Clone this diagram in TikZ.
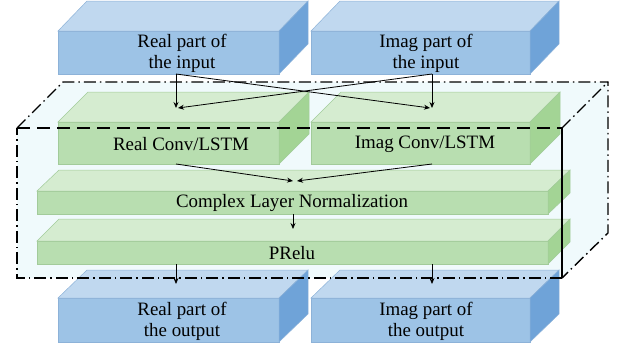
\documentclass[tikz,border=0pt]{standalone}
\usepackage{fontspec}
\setmainfont{Liberation Serif}
\newfontfamily\tnr{Liberation Serif}
\usetikzlibrary{arrows.meta,calc}
\definecolor{bF}{HTML}{9DC3E6}
\definecolor{bT}{HTML}{C0D8EF}
\definecolor{bS}{HTML}{6FA3D8}
\definecolor{bE}{HTML}{8DB2D8}
\definecolor{gF}{HTML}{B8DEB0}
\definecolor{gT}{HTML}{D5ECD0}
\definecolor{gS}{HTML}{A3D495}
\definecolor{gE}{HTML}{A2CB9A}
\definecolor{bigfill}{HTML}{F0FAFC}
\tikzset{
  face/.style={draw=#1E, line width=0.5pt},
  lbl/.style={font=\tnr\fontsize{18.9}{21}\selectfont, align=center, inner sep=0pt},
  dashdot/.style={line width=1.4pt, dash pattern=on 12pt off 4pt on 1.5pt off 4pt},
  longdash/.style={line width=1.4pt, dash pattern=on 13pt off 7pt},
  conn/.style={line width=0.8pt, -{Stealth[length=6pt,width=5pt]}},
}
% name, x0, y0, x1, y1, dx, dy, colour prefix
\newcommand\mycuboid[8]{%
  \node[face=#8, fill=#8F, inner sep=0pt, outer sep=0pt, anchor=north west,
        minimum width={(#4-#2)*1pt}, minimum height={(#5-#3)*1pt}] (#1) at (#2,#3) {};
  \draw[face=#8, fill=#8T] (#1.north west) -- ++(#6,-#7) -- ($(#1.north east)+(#6,-#7)$) -- (#1.north east) -- cycle;
  \draw[face=#8, fill=#8S] (#1.north east) -- ++(#6,-#7) -- ($(#1.south east)+(#6,-#7)$) -- (#1.south east) -- cycle;
}
\begin{document}
\begin{tikzpicture}[x=1pt,y=-1pt]
\useasboundingbox (0,0) rectangle (622,343);
\clip (0,0) rectangle (622,343);
% big dash-dot box corners
\coordinate (FTL) at (17,128);
\coordinate (FTR) at (562,128);
\coordinate (FBL) at (17,278);
\coordinate (FBR) at (562,278);
\coordinate (BTL) at (63,82);
\coordinate (BTR) at (608,82);
\coordinate (BBR) at (608,233);
\fill[bigfill] (FTL) -- (BTL) -- (BTR) -- (BBR) -- (FBR) -- (FBL) -- cycle;
% boxes
\mycuboid{inR}{58}{31}{279}{74}{29}{30}{b}
\mycuboid{inI}{311}{31}{530}{74}{29}{30}{b}
\mycuboid{convR}{58}{122}{279}{164}{30}{30}{g}
\mycuboid{convI}{311}{122}{530}{164}{30}{30}{g}
\mycuboid{cln}{37}{191}{548}{214}{22}{21}{g}
\mycuboid{prelu}{37}{241}{548}{264}{22}{22}{g}
\mycuboid{outR}{58}{298}{279}{342}{29}{28}{b}
\mycuboid{outI}{311}{298}{530}{342}{29}{28}{b}
% texts
\node[lbl] (inRt) at (182,53) {Real part of\\the input};
\node[lbl] (inIt) at (426,53) {Imag part of\\the input};
\node[lbl] (convRt) at (181,144) {Real Conv/LSTM};
\node[lbl] (convIt) at (425,144) {Imag Conv/LSTM};
\node[lbl] (clnt) at (292,203) {Complex Layer Normalization};
\node[lbl] (prelut) at (292,253) {PRelu};
\node[lbl] (outRt) at (182,321) {Real part of\\the output};
\node[lbl] (outIt) at (426,321) {Imag part of\\the output};
% big box outline
\draw[dashdot] (FTL) -- (BTL) -- (BTR) -- (BBR) -- (FBR);
\draw[dashdot] (FTR) -- (BTR);
\draw[dashdot] (FBR) -- (FBL) -- (FTL);
\draw[longdash] (FTL) -- (FTR);
\draw[line width=1.4pt] (FTR) -- (FBR);
% ports
\coordinate (inRb) at (176,74);
\coordinate (inIb) at (432,74);
\coordinate (convRtop) at (176,108);
\coordinate (convRtop2) at (178,108);
\coordinate (convItop) at (432,108);
\coordinate (convItop2) at (430,108);
\coordinate (convRb) at (176,164);
\coordinate (convIb) at (432,164);
\coordinate (clntop) at (293,181);
\coordinate (clntop2) at (297,181);
\coordinate (clnb) at (293,214);
\coordinate (prelutop) at (293,229);
\coordinate (preluRb) at (176,264);
\coordinate (preluIb) at (432,264);
\coordinate (outRtop) at (176,284);
\coordinate (outItop) at (432,284);
% connectors
\draw[conn] (inRb) -- (convRtop);
\draw[conn] (inRb) -- (convItop2);
\draw[conn] (inIb) -- (convItop);
\draw[conn] (inIb) -- (convRtop2);
\draw[conn] (convRb) -- (clntop);
\draw[conn] (convIb) -- (clntop2);
\draw[conn] (clnb) -- (prelutop);
\draw[conn] (preluRb) -- (outRtop);
\draw[conn] (preluIb) -- (outItop);
\end{tikzpicture}
\end{document}
